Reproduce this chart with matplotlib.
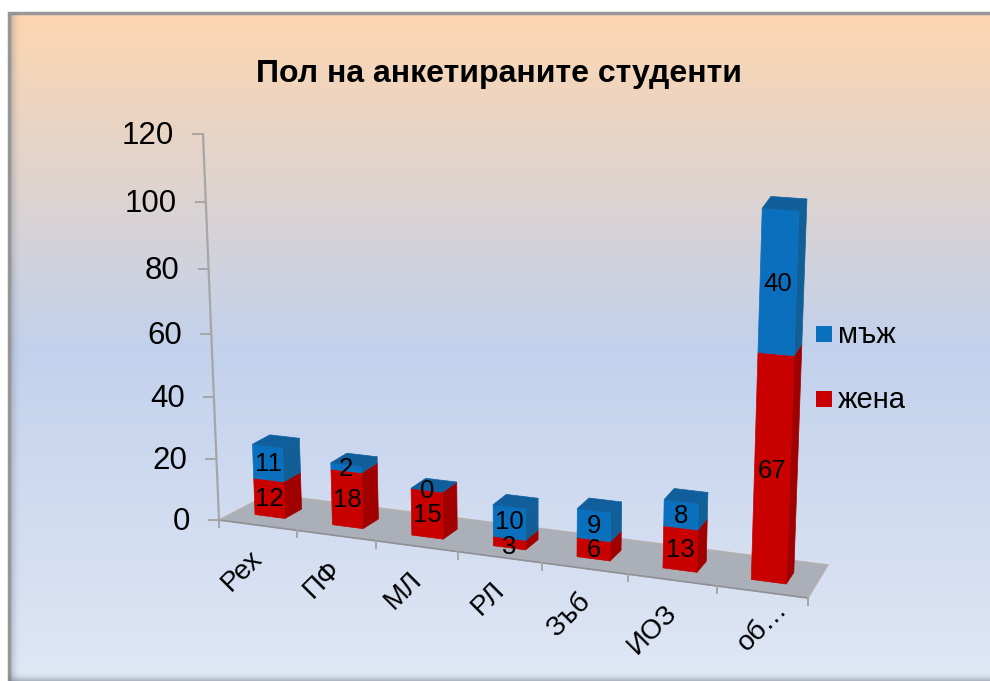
import numpy as np
import matplotlib
matplotlib.use("Agg")
import matplotlib.pyplot as plt
from matplotlib.colors import LinearSegmentedColormap
from matplotlib.patches import Polygon, Rectangle

plt.rcParams['font.family'] = ['Liberation Sans', 'DejaVu Sans']

# data
categories = ['Рех', 'ПФ', 'МЛ', 'РЛ', 'Зъб', 'ИОЗ', 'об…']
women = [12, 18, 15, 3, 6, 13, 67]
men = [11, 2, 0, 10, 9, 8, 40]
y_ticks = [0, 20, 40, 60, 80, 100, 120]
title = 'Пол на анкетираните студенти'
series_names = ['мъж', 'жена']

RED, RED_SIDE = '#C80000', '#A00000'
BLUE, BLUE_SIDE, BLUE_TOP = '#0A70BE', '#125F98', '#105F9C'
GREY = '#A6A6A6'

# floor homography: (category position, depth) -> pixels
floor_src = [(0, 0), (7, 0), (7, 1), (0, 1)]
floor_dst = [(219, 520), (808, 598), (828, 565), (269, 494)]
rows, rhs = [], []
for (u, d), (px, py) in zip(floor_src, floor_dst):
    rows.append([u, d, 1, 0, 0, 0, -u * px, -d * px])
    rows.append([0, 0, 0, u, d, 1, -u * py, -d * py])
    rhs += [px, py]
H = np.append(np.linalg.solve(np.array(rows, float), np.array(rhs, float)), 1).reshape(3, 3)
VANISH = (531, 8040)  # verticals converge here


def project(u, d, h=0.0):
    # 3D chart position to picture pixels
    p = H @ np.array([u, d, 1.0])
    x, y = p[0] / p[2], p[1] / p[2]
    s = 3.0 + 0.00049 * (x - 219)
    dy = s * h / (1 - 0.000562 * h)
    return x + (x - VANISH[0]) * dy / (VANISH[1] - y), y - dy


fig = plt.figure(figsize=(9.9, 6.81), dpi=100)
ax = fig.add_axes([0, 0, 1, 1])
ax.axis('off')

# background panel, runs off the right and bottom edges
cmap = LinearSegmentedColormap.from_list('bg', [(0, '#FDD6B0'), (0.5, '#C2D1EC'), (1, '#E0E7F5')])
ax.imshow(np.linspace(0, 1, 256).reshape(-1, 1), cmap=cmap, aspect='auto',
          extent=(9, 990, 681, 13), zorder=0)
ax.set_xlim(0, 990)
ax.set_ylim(681, 0)
ax.plot([9, 9, 990], [681, 13, 13], color='#979797', lw=2.5, solid_joinstyle='miter', zorder=1)
# soft inner shadow
for k in range(9):
    ax.plot([9, 990], [680.5 - k, 680.5 - k], color='#6E7480', alpha=0.42 * (1 - k / 9) ** 2, lw=1, zorder=1)
    ax.plot([10.5 + k, 10.5 + k], [14, 681], color='#6E7480', alpha=0.25 * (1 - k / 9) ** 2, lw=1, zorder=1)

# floor
ax.add_patch(Polygon([project(*c) for c in floor_src], fc='#ABB0B8', ec='#B5B0AE', lw=1, zorder=2))

# value axis
ax.plot(*zip(project(0, 0, 0), project(0, 0, 120)), color=GREY, lw=1.6, zorder=3)
for v in y_ticks:
    x, y = project(0, 0, v)
    ax.plot([x - 10, x], [y, y], color=GREY, lw=1.4, zorder=3)
    ax.text(x - 29, y + 2, str(v), ha='right', va='center', fontsize=22.5, zorder=6)

# category ticks and labels
ax.plot(*zip(project(0, 0), project(7, 0)), color='#8E9096', lw=1.2, zorder=3)
label_dx = [0, 0, 0, 0, 0, 0, 20]
label_dy = [0, 0, 0, 0, 0, 0, -16]
for i in range(len(categories) + 1):
    x, y = project(i, 0)
    ax.plot([x, x], [y, y + 7], color=GREY, lw=1.4, zorder=3)
for i, name in enumerate(categories):
    x, y = project(i + 0.5, 0)
    ax.text(x - 8 + label_dx[i], y + 20 + label_dy[i], name, rotation=45, ha='right', va='top',
            rotation_mode='anchor', fontsize=20, zorder=6)


def draw_segment(i, h0, h1, front, side, top=None):
    u0, u1 = i + 0.27 + 0.005 * i, i + 0.66 + 0.005 * i
    d0, d1 = 0.3, 0.65
    ax.add_patch(Polygon([project(u1, d0, h0), project(u1, d1, h0), project(u1, d1, h1), project(u1, d0, h1)],
                         fc=side, ec=side, lw=0.5, zorder=4))
    ax.add_patch(Polygon([project(u0, d0, h0), project(u1, d0, h0), project(u1, d0, h1), project(u0, d0, h1)],
                         fc=front, ec=front, lw=0.5, zorder=4))
    if top:
        ax.add_patch(Polygon([project(u0, d0, h1), project(u1, d0, h1), project(u1, d1, h1), project(u0, d1, h1)],
                             fc=top, ec=top, lw=0.5, zorder=4))


# stacked bars
for i in range(len(categories)):
    w, m = women[i], men[i]
    draw_segment(i, 0, w, RED, RED_SIDE)
    draw_segment(i, w, w + m, BLUE, BLUE_SIDE, BLUE_TOP)
    label_u = i + 0.465 + 0.005 * i
    x, y = project(label_u, 0.3, w / 2)
    # short segment: nudge its label clear of the one above
    ax.text(x, y + (4 if w < 5 else 1), str(w), ha='center', va='center', fontsize=18.5, zorder=7)
    x, y = project(label_u, 0.3, w + m / 2)
    ax.text(x, y + (-1 if w < 5 else 1), str(m), ha='center', va='center', fontsize=18.5, zorder=7)

# legend
for name, color, y in zip(series_names, [BLUE, RED], [334, 399]):
    ax.add_patch(Rectangle((816, y - 8), 15.5, 16, fc=color, ec='none', zorder=6))
    ax.text(838, y + 1, name, ha='left', va='center', fontsize=21, zorder=6)

ax.text(498.5, 82, title, ha='center', va='baseline', fontsize=23, fontweight='bold', zorder=6)

fig.savefig('out.png', dpi=100)
